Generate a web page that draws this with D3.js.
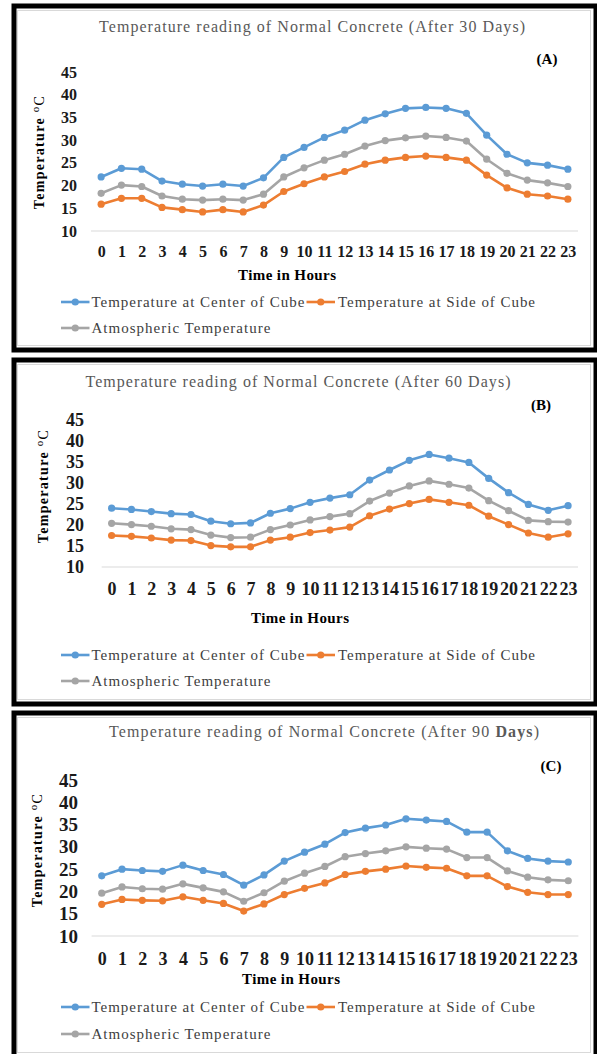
<!DOCTYPE html>
<html>
<head>
<meta charset="utf-8">
<script src="https://cdn.jsdelivr.net/npm/d3@7"></script>
<style>
  body { margin: 0; background: #fff; }
  text { font-family: "Liberation Serif", "Times New Roman", serif; }
</style>
</head>
<body>
<svg id="chart" width="597" height="1054"></svg>
<script>
// categories
var hours = ["0","1","2","3","4","5","6","7","8","9","10","11","12","13","14","15","16","17","18","19","20","21","22","23"];
var yTicks = [10, 15, 20, 25, 30, 35, 40, 45];
var seriesNames = ["Temperature at Center of Cube", "Temperature at Side of Cube", "Atmospheric Temperature"];
var seriesColours = ["#5b9bd5", "#ed7d31", "#a5a5a5"];
var titles = ["Temperature reading of Normal Concrete (After 30 Days)",
              "Temperature reading of Normal Concrete (After 60 Days)",
              "Temperature reading of Normal Concrete (After 90 Days)"];
var tags = ["(A)", "(B)", "(C)"];

// (A) after 30 days
var centerA = [21.9, 23.8, 23.6, 21.0, 20.3, 19.9, 20.3, 19.9, 21.7, 26.2, 28.4, 30.6, 32.2, 34.4, 35.8, 37.0, 37.2, 37.0, 35.9, 31.1, 26.9, 25.0, 24.5, 23.6];
var sideA   = [15.9, 17.2, 17.2, 15.2, 14.7, 14.2, 14.7, 14.2, 15.7, 18.7, 20.4, 21.9, 23.1, 24.7, 25.6, 26.2, 26.5, 26.2, 25.6, 22.3, 19.5, 18.1, 17.7, 17.0];
var atmA    = [18.3, 20.1, 19.8, 17.7, 17.0, 16.8, 17.0, 16.8, 18.1, 21.9, 23.9, 25.6, 26.9, 28.7, 29.9, 30.5, 30.9, 30.6, 29.8, 25.8, 22.7, 21.2, 20.6, 19.8];

// (B) after 60 days
var centerB = [24.0, 23.7, 23.2, 22.7, 22.5, 20.9, 20.3, 20.5, 22.8, 23.9, 25.4, 26.4, 27.2, 30.7, 33.1, 35.4, 36.8, 35.9, 34.9, 31.1, 27.7, 24.9, 23.5, 24.6];
var sideB   = [17.5, 17.3, 16.9, 16.4, 16.3, 15.1, 14.8, 14.8, 16.4, 17.1, 18.2, 18.8, 19.5, 22.2, 23.8, 25.1, 26.1, 25.4, 24.7, 22.1, 20.1, 18.1, 17.1, 17.9];
var atmB    = [20.4, 20.1, 19.7, 19.1, 18.9, 17.6, 17.0, 17.1, 18.9, 20.0, 21.2, 22.0, 22.7, 25.7, 27.6, 29.3, 30.5, 29.7, 28.8, 25.8, 23.4, 21.1, 20.8, 20.7];

// (C) after 90 days
var centerC = [23.5, 25.0, 24.7, 24.5, 25.9, 24.7, 23.8, 21.4, 23.7, 26.8, 28.8, 30.6, 33.2, 34.2, 34.9, 36.3, 36.0, 35.7, 33.3, 33.3, 29.1, 27.4, 26.8, 26.6];
var sideC   = [17.1, 18.2, 18.0, 17.9, 18.8, 18.0, 17.3, 15.6, 17.2, 19.3, 20.7, 21.9, 23.8, 24.5, 25.0, 25.7, 25.4, 25.2, 23.5, 23.5, 21.1, 19.8, 19.3, 19.3];
var atmC    = [19.6, 21.0, 20.6, 20.5, 21.7, 20.8, 19.9, 17.8, 19.7, 22.3, 24.1, 25.6, 27.8, 28.5, 29.1, 30.0, 29.7, 29.5, 27.6, 27.6, 24.6, 23.2, 22.6, 22.4];

var panelSeries = [[centerA, sideA, atmA], [centerB, sideB, atmB], [centerC, sideC, atmC]];

// where each panel sits on the page
var layouts = [
    {top: 6, titleX: 312, titleY: 32, titleW: 426, tagX: 547, tagY: 64,
     yTop: 72, yBot: 231, yLabelX: 77, yFont: 16, x0: 91, x1: 578, xFont: 16, xLabelDy: 26,
     axisTitleX: 287, axisTitleY: 280, legY: [302, 328], yTitleX: 44, yTitleY: 152, yTitleLen: 111},
    {top: 360, titleX: 298, titleY: 387, titleW: 425, tagX: 541, tagY: 410,
     yTop: 420, yBot: 567, yLabelX: 84, yFont: 18, x0: 101.7, x1: 578, xFont: 18, xLabelDy: 28,
     axisTitleX: 300, axisTitleY: 623, legY: [655, 681], yTitleX: 48, yTitleY: 486, yTitleLen: 112},
    {top: 713, titleX: 324, titleY: 737, titleW: 430, tagX: 551, tagY: 771,
     yTop: 780, yBot: 936, yLabelX: 78, yFont: 19, x0: 91.6, x1: 578.4, xFont: 18, xLabelDy: 29,
     axisTitleX: 291, axisTitleY: 984, legY: [1007, 1034], yTitleX: 42, yTitleY: 850, yTitleLen: 114}
];

var svg = d3.select("#chart");

function drawPanel(i) {
    var L = layouts[i];
    var g = svg.append("g");

    // frame: thick black outer, thin grey inner
    g.append("rect")
        .attr("x", 14).attr("y", L.top)
        .attr("width", 582).attr("height", 344)
        .attr("fill", "#fff").attr("stroke", "#000").attr("stroke-width", 5);
    g.append("rect")
        .attr("x", 17.5).attr("y", L.top + 4.5)
        .attr("width", 573).attr("height", 335)
        .attr("fill", "none").attr("stroke", "#d9d9d9").attr("stroke-width", 1);

    var title = g.append("text")
        .attr("x", L.titleX).attr("y", L.titleY)
        .attr("text-anchor", "middle")
        .attr("font-size", 16)
        .attr("fill", "#595959")
        .attr("textLength", L.titleW)
        .attr("lengthAdjust", "spacing");
    if (i == 2) {
        // the last title has "Days" in bold
        title.append("tspan").text(titles[i].replace("Days)", ""));
        title.append("tspan").attr("font-weight", "bold").text("Days");
        title.append("tspan").text(")");
    } else {
        title.text(titles[i]);
    }

    g.append("text")
        .attr("x", L.tagX).attr("y", L.tagY)
        .attr("text-anchor", "middle")
        .attr("font-size", 15).attr("font-weight", "bold")
        .text(tags[i]);

    var x = d3.scalePoint().domain(hours).range([L.x0, L.x1]).padding(0.5);
    var y = d3.scaleLinear().domain([10, 45]).range([L.yBot, L.yTop]);

    // y labels, no axis line
    var yAxis = g.append("g")
        .attr("transform", "translate(" + L.yLabelX + ",0)")
        .call(d3.axisLeft(y).tickValues(yTicks).tickSize(0).tickPadding(0));
    yAxis.select(".domain").remove();
    yAxis.selectAll("text")
        .attr("font-family", "Liberation Serif, serif")
        .attr("font-size", L.yFont).attr("font-weight", "bold")
        .attr("fill", "#1a1a1a");

    // category axis: the grey line at 10
    var xAxis = g.append("g")
        .attr("transform", "translate(0," + y(10) + ")")
        .call(d3.axisBottom(x).tickSize(0).tickSizeOuter(0));
    xAxis.select(".domain")
        .attr("d", "M" + L.x0 + ",0H" + L.x1)
        .attr("stroke", "#d9d9d9").attr("stroke-width", 1);
    xAxis.selectAll("text")
        .attr("y", L.xLabelDy).attr("dy", 0)
        .attr("font-family", "Liberation Serif, serif")
        .attr("font-size", L.xFont).attr("font-weight", "bold")
        .attr("fill", "#1a1a1a");

    g.append("text")
        .attr("x", L.axisTitleX).attr("y", L.axisTitleY)
        .attr("text-anchor", "middle")
        .attr("font-size", 15).attr("font-weight", "bold")
        .attr("textLength", 98).attr("lengthAdjust", "spacing")
        .text("Time in Hours");

    var yTitle = g.append("text")
        .attr("transform", "translate(" + L.yTitleX + "," + L.yTitleY + ") rotate(-90)")
        .attr("text-anchor", "middle")
        .attr("font-size", 14).attr("font-weight", "bold")
        .attr("letter-spacing", 1.3);
    yTitle.append("tspan").text("Temperature ");
    yTitle.append("tspan").attr("font-size", 11).attr("font-weight", "normal").attr("dy", -5).text("o");
    yTitle.append("tspan").attr("font-weight", "normal").attr("dy", 5).text("C");

    var line = d3.line()
        .x(function (d, k) { return x(hours[k]); })
        .y(function (d) { return y(d); });

    // draw grey first, then orange, then blue on top
    [2, 1, 0].forEach(function (s) {
        var vals = panelSeries[i][s];
        g.append("path")
            .datum(vals)
            .attr("d", line)
            .attr("fill", "none")
            .attr("stroke", seriesColours[s])
            .attr("stroke-width", 2.6)
            .attr("stroke-linejoin", "round");
        g.selectAll(".pt" + s)
            .data(vals)
            .enter().append("circle")
            .attr("class", "pt" + s)
            .attr("cx", function (d, k) { return x(hours[k]); })
            .attr("cy", function (d) { return y(d); })
            .attr("r", 3.6)
            .attr("fill", seriesColours[s]);
    });

    // legend
    var legendItems = [
        {s: 0, x: 61, tx: 91.4, y: L.legY[0], w: 213},
        {s: 1, x: 306.5, tx: 338, y: L.legY[0], w: 197},
        {s: 2, x: 61, tx: 91.4, y: L.legY[1], w: 179}
    ];
    legendItems.forEach(function (it) {
        g.append("line")
            .attr("x1", it.x).attr("x2", it.x + 28.5)
            .attr("y1", it.y).attr("y2", it.y)
            .attr("stroke", seriesColours[it.s]).attr("stroke-width", 2.6);
        g.append("circle")
            .attr("cx", it.x + 14.25).attr("cy", it.y).attr("r", 3.6)
            .attr("fill", seriesColours[it.s]);
        g.append("text")
            .attr("x", it.tx).attr("y", it.y + 5)
            .attr("font-size", 15)
            .attr("fill", "#404040")
            .attr("textLength", it.w).attr("lengthAdjust", "spacing")
            .text(seriesNames[it.s]);
    });
}

for (var i = 0; i < 3; i++) {
    drawPanel(i);
}
</script>
</body>
</html>
